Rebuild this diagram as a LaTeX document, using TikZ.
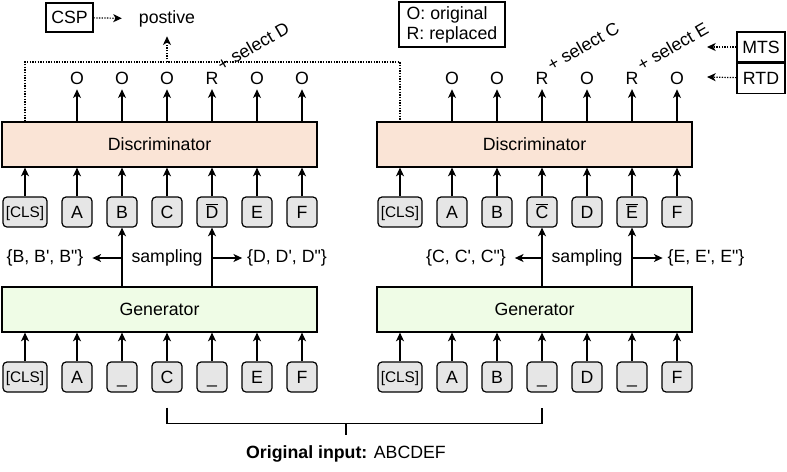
\documentclass[tikz,border=0pt]{standalone}
\usepackage{fontspec}
\setmainfont{Liberation Sans}[Ligatures=TeXOff]
\usetikzlibrary{arrows.meta,positioning,calc}

\definecolor{discfill}{HTML}{FAE4D6}
\definecolor{genfill}{HTML}{EFFCE6}
\definecolor{tokfill}{HTML}{E6E6E6}

\tikzset{
  tok/.style={draw, fill=tokfill, rounded corners=3pt, minimum width=22.5pt, minimum height=22.5pt, inner sep=1pt, text height=9.6pt, text depth=0pt},
  clstok/.style={tok, minimum width=33pt, font=\fontsize{11.5pt}{13pt}\selectfont, text height=8.3pt},
  model/.style={draw, minimum width=236.25pt, minimum height=33.75pt},
  plainbox/.style={draw, inner sep=2.5pt},
  arr/.style={-{Stealth[length=6.5pt,width=6pt,inset=1.8pt]}},
  dotline/.style={dash pattern=on 1pt off 1pt},
  sel/.style={rotate=30, anchor=base west, inner sep=0pt},
}

\begin{document}
\begin{tikzpicture}[x=0.75pt, y=-0.75pt, line width=0.9pt, font=\fontsize{13.3pt}{16pt}\selectfont]
    \useasboundingbox (0,0) rectangle (787,471);

    % Token-Listen (links / rechts)
    \def\toprow{
        {A,B,C,$\overline{\mbox{D}}$,E,F},
        {A,B,$\overline{\mbox{C}}$,D,$\overline{\mbox{E}}$,F},
    }
    \def\botrow{
        {A,\_,C,\_,E,F},
        {A,B,\_,D,\_,F},
    }
    \def\outrow{
        {O,O,O,R,O,O},
        {O,O,R,O,R,O},
    }

    % Modelle und [CLS]
    \foreach \p in {0,1} {
        \node[model, fill=discfill] (disc\p) at (159.5+375*\p, 144.5) {Discriminator};
        \node[model, fill=genfill] (gen\p) at (159.5+375*\p, 309.5) {Generator};
        \node[clstok] (t\p-0) at (25+375*\p, 212) {[CLS]};
        \node[clstok] (b\p-0) at (25+375*\p, 377) {[CLS]};
        \draw[arr] (t\p-0) -- (t\p-0 |- disc\p.south);
        \draw[arr] (b\p-0) -- (b\p-0 |- gen\p.south);
    }

    % Token oben
    \foreach \row [count=\p from 0] in \toprow {
        \foreach \tk [count=\j from 1] in \row {
            \node[tok] (t\p-\j) at (32+45*\j+375*\p, 212) {\tk};
            \draw[arr] (t\p-\j) -- (t\p-\j |- disc\p.south);
        }
    }

    % Token unten
    \foreach \row [count=\p from 0] in \botrow {
        \foreach \tk [count=\j from 1] in \row {
            \node[tok] (b\p-\j) at (32+45*\j+375*\p, 377) {\tk};
            \draw[arr] (b\p-\j) -- (b\p-\j |- gen\p.south);
        }
    }

    % Ausgaben O / R
    \foreach \row [count=\p from 0] in \outrow {
        \foreach \lab [count=\j from 1] in \row {
            \node (o\p-\j) at (32+45*\j+375*\p, 78) {\lab};
            \draw[arr] (disc\p.north -| o\p-\j) -- (o\p-\j);
        }
    }

    % sampling links
    \node (samp0) at (167,258) {sampling};
    \draw[arr] (gen0.north -| t0-2) -- (t0-2);
    \draw[arr] (gen0.north -| t0-4) -- (t0-4);
    \node (set0a) at (45,258) {\{B, B', B"\}};
    \node (set0b) at (287,258) {\{D, D', D"\}};
    \coordinate (s0a) at (t0-2 |- samp0);
    \coordinate (s0b) at (t0-4 |- samp0);
    \draw[arr, shorten >=3pt] (s0a) -- (set0a);
    \draw[arr, shorten >=0pt] (s0b) -- (set0b);

    % sampling rechts
    \node (samp1) at (587,258) {sampling};
    \draw[arr] (gen1.north -| t1-3) -- (t1-3);
    \draw[arr] (gen1.north -| t1-5) -- (t1-5);
    \node (set1a) at (466,258) {\{C, C', C"\}};
    \node (set1b) at (706,258) {\{E, E', E"\}};
    \coordinate (s1a) at (t1-3 |- samp1);
    \coordinate (s1b) at (t1-5 |- samp1);
    \draw[arr, shorten >=3pt] (s1a) -- (set1a);
    \draw[arr, shorten >=0pt] (s1b) -- (set1b);

    % + select
    \node[sel] at ([shift={(-2,5)}]o0-4.north east) {+ select D};
    \node[sel] at ([shift={(-2,5)}]o1-3.north east) {+ select C};
    \node[sel] at ([shift={(-2,5)}]o1-5.north east) {+ select E};

    % CSP
    \node[plainbox, minimum width=35.25pt, minimum height=21.75pt] (csp) at (69.5,17.5) {CSP};
    \node (pos) at (167,19) {postive};
    \coordinate (jmid) at (167,62);
    \draw[dotline] (disc0.north -| t0-0) |- (jmid) -| (disc1.north -| t1-0);
    \draw[arr, dotline, shorten >=3pt] (jmid) -- (pos);
    \draw[arr, dotline, shorten >=9pt] (csp) -- (pos);

    % Legende
    \node[plainbox, align=left, minimum width=79.5pt, minimum height=33.75pt,
          font=\fontsize{13.3pt}{15pt}\selectfont] (legend) at (452,24.5) {O: original\\R: replaced};

    % MTS / RTD
    \node[plainbox, minimum width=36pt, minimum height=22.5pt] (mts) at (761,47) {MTS};
    \node[plainbox, minimum width=36pt, minimum height=22.5pt] (rtd) [below=0pt of mts] {RTD};
    \coordinate (mtsend) at (707,47);
    \coordinate (rtdend) at (707,77);
    \draw[arr, dotline] (mts) -- (mtsend);
    \draw[arr, dotline] (rtd) -- (rtdend);

    % Original input
    \node (orig) at (346,454) {\textbf{Original input:} ABCDEF};
    \coordinate (brl) at ([yshift=-11.25pt]b0-3.south);
    \coordinate (brr) at ([yshift=-11.25pt]b1-3.south);
    \draw (brl) -- ++(0,16) coordinate (brb) -| (brr);
    \draw[shorten >=4pt] (brb -| orig) -- (orig);
\end{tikzpicture}
\end{document}
